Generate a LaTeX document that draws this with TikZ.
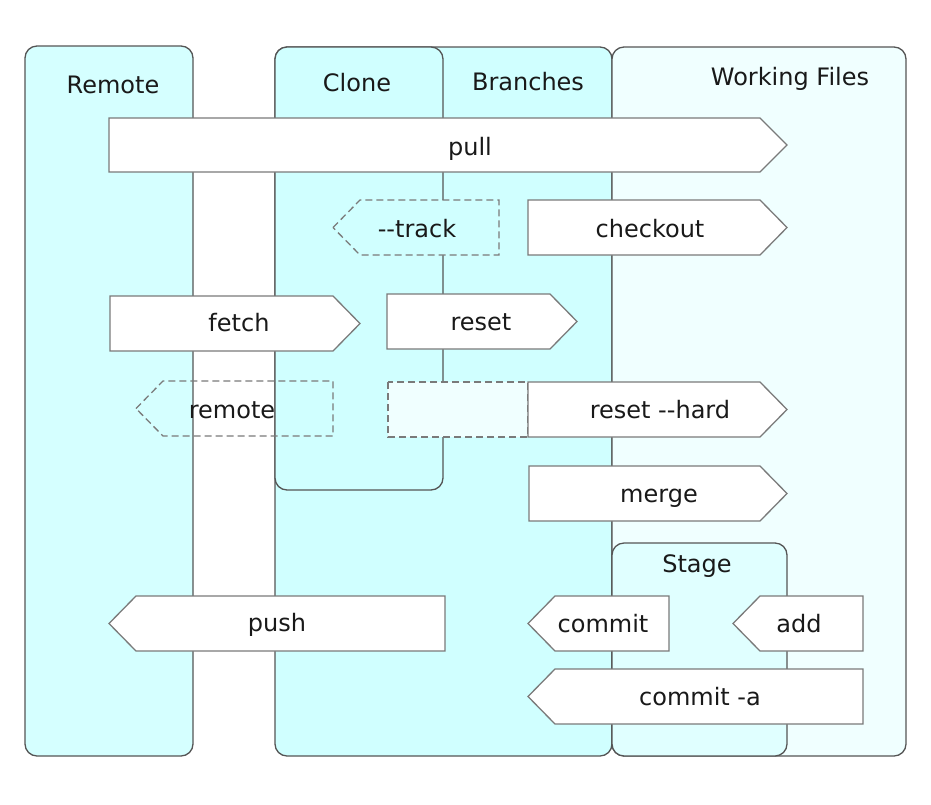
\documentclass[tikz,border=0pt]{standalone}
\usepackage{fontspec}
\setmainfont{DejaVu Sans}
\definecolor{cRemote}{HTML}{D5FFFF}
\definecolor{cBranch}{HTML}{D0FFFF}
\definecolor{cWork}{HTML}{F0FFFF}
\definecolor{cStage}{HTML}{E0FFFF}
\definecolor{cPanelLine}{HTML}{555555}
\definecolor{cArrLine}{HTML}{7A7A7A}
\newcommand\rightsig[5][arr]{\draw[#1] (#2,#4) -- ({#3-27},#4) -- (#3,{(#4+#5)/2}) -- ({#3-27},#5) -- (#2,#5) -- cycle;}
\newcommand\leftsig[5][arr]{\draw[#1] (#2,{(#4+#5)/2}) -- ({#2+27},#4) -- (#3,#4) -- (#3,#5) -- ({#2+27},#5) -- cycle;}
\begin{document}
\begin{tikzpicture}[x=1pt,y=-1pt,
  panel/.style={draw=cPanelLine,line width=1.3pt,rounded corners=12pt},
  arr/.style={draw=cArrLine,line width=1.3pt,fill=white},
  dasharr/.style={draw=cArrLine,line width=1.3pt,dash pattern=on 7pt off 4pt},
  lbl/.style={font=\fontsize{24}{28}\selectfont,anchor=base,inner sep=0pt,text=black!90}]
\useasboundingbox (0,0) rectangle (931,804);
% panels
\draw[panel,fill=cRemote] (25,46) rectangle (193,756);
\draw[panel,fill=cBranch] (275,47) rectangle (612,756);
\draw[panel,fill=cBranch] (275,47) rectangle (443,490);
\draw[panel,fill=cWork] (612,47) rectangle (906,756);
\draw[panel,fill=cStage] (612,543) rectangle (787,756);
\node[lbl] (tRemote) at (113,93) {Remote};
\node[lbl] (tClone) at (357,91) {Clone};
\node[lbl] (tBranches) at (528,90) {Branches};
\node[lbl] (tWork) at (790,85) {Working Files};
\node[lbl] (tStage) at (697,572) {Stage};
% arrows
\rightsig{109}{787}{118}{172}
\node[lbl] (tPull) at (470,155) {pull};
\leftsig[dasharr,fill=cBranch]{333}{499}{200}{255}
\node[lbl] (tTrack) at (417,237) {-{}-track};
\rightsig{528}{787}{200}{255}
\node[lbl] (tCheckout) at (650,237) {checkout};
\rightsig{110}{360}{296}{351}
\node[lbl] (tFetch) at (239,331) {fetch};
\rightsig{387}{577}{294}{349}
\node[lbl] (tReset) at (481,330) {reset};
\leftsig[dasharr]{136}{333}{381}{436}
\node[lbl] (tRemoteCmd) at (232,418) {remote};
\draw[dasharr,fill=cWork] (388,382) rectangle (528,437);
\rightsig{528}{787}{382}{437}
\node[lbl] (tResetHard) at (660,418) {reset -{}-hard};
\rightsig{529}{787}{466}{521}
\node[lbl] (tMerge) at (659,502) {merge};
\leftsig{109}{445}{596}{651}
\node[lbl] (tPush) at (277,631) {push};
\leftsig{528}{669}{596}{651}
\node[lbl] (tCommit) at (603,632) {commit};
\leftsig{733}{863}{596}{651}
\node[lbl] (tAdd) at (799,632) {add};
\leftsig{528}{863}{669}{724}
\node[lbl] (tCommitA) at (700,705) {commit -a};
\end{tikzpicture}
\end{document}
